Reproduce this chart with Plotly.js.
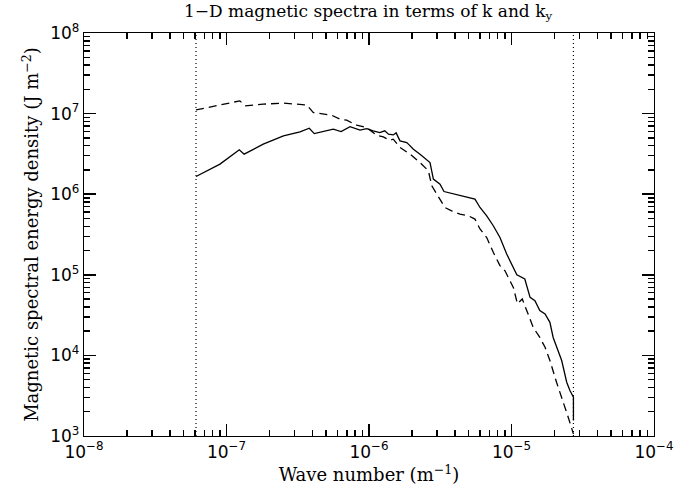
<!DOCTYPE html>
<html>
<head>
<meta charset="utf-8">
<script src="https://cdn.plot.ly/plotly-3.0.1.min.js"></script>
<style>html,body{margin:0;padding:0;background:#fff;}#chart{width:688px;height:490px;}</style>
</head>
<body>
<div id="chart"></div>
<script>
// Solid curve: spectrum in terms of k
const kSolid = [6.11e-8, 9.0e-8, 1.23e-7, 1.33e-7, 1.81e-7, 2.51e-7, 3.28e-7, 3.81e-7, 4.13e-7, 5.61e-7,
  6.37e-7, 7.36e-7, 8.65e-7, 9.64e-7, 1.07e-6, 1.19e-6, 1.29e-6, 1.37e-6, 1.48e-6, 1.55e-6,
  1.65e-6, 1.84e-6, 1.89e-6, 2.05e-6, 2.28e-6, 2.54e-6, 2.68e-6, 2.83e-6, 3.15e-6, 3.36e-6,
  5.54e-6, 6.01e-6, 6.70e-6, 7.45e-6, 8.30e-6, 9.25e-6, 1.00e-5, 1.09e-5, 1.24e-5, 1.35e-5,
  1.46e-5, 1.58e-5, 1.72e-5, 1.86e-5, 1.96e-5, 2.13e-5, 2.25e-5, 2.44e-5, 2.57e-5, 2.72e-5, 2.72e-5];
const eSolid = [1.66e6, 2.36e6, 3.55e6, 3.14e6, 4.18e6, 5.29e6, 5.93e6, 6.59e6, 5.65e6, 6.41e6,
  5.98e6, 6.90e6, 6.23e6, 6.52e6, 6.11e6, 5.82e6, 6.11e6, 5.56e6, 5.44e6, 5.77e6,
  4.59e6, 4.38e6, 4.18e6, 3.62e6, 3.14e6, 2.72e6, 2.47e6, 1.54e6, 1.33e6, 1.08e6,
  8.69e5, 6.84e5, 5.40e5, 4.06e5, 2.90e5, 1.81e5, 1.36e5, 1.00e5, 8.87e4, 5.25e4,
  4.78e4, 3.59e4, 3.26e4, 2.57e4, 1.67e4, 1.15e4, 8.63e3, 4.65e3, 3.66e3, 3.03e3, 1.56e3];

// Dashed curve: spectrum in terms of k_y
const kDashed = [6.11e-8, 1.12e-7, 1.24e-7, 1.35e-7, 1.81e-7, 2.51e-7, 3.66e-7, 4.07e-7, 5.47e-7, 6.25e-7,
  6.97e-7, 8.20e-7, 9.64e-7, 1.13e-6, 1.26e-6, 1.40e-6, 1.48e-6, 1.65e-6, 1.94e-6, 2.28e-6,
  2.61e-6, 2.76e-6, 3.06e-6, 3.41e-6, 3.80e-6, 4.35e-6, 4.98e-6, 5.54e-6, 6.01e-6, 6.70e-6,
  7.45e-6, 8.30e-6, 9.00e-6, 1.03e-5, 1.10e-5, 1.19e-5, 1.42e-5, 1.58e-5, 1.72e-5, 1.86e-5,
  2.07e-5, 2.25e-5, 2.50e-5, 2.72e-5];
const eDashed = [1.11e7, 1.37e7, 1.44e7, 1.25e7, 1.31e7, 1.35e7, 1.28e7, 1.03e7, 9.55e6, 8.53e6,
  8.28e6, 7.18e6, 6.71e6, 5.39e6, 5.14e6, 4.68e6, 4.82e6, 3.80e6, 3.14e6, 2.47e6,
  1.95e6, 1.27e6, 9.55e5, 6.84e5, 6.22e5, 5.66e5, 5.40e5, 4.91e5, 3.70e5, 2.90e5,
  1.90e5, 1.30e5, 1.12e5, 6.98e4, 4.38e4, 5.01e4, 2.23e4, 1.67e4, 1.26e4, 8.63e3,
  4.65e3, 3.03e3, 1.71e3, 1.06e3];

// Vertical dotted limits
const kLimits = [6.11e-8, 2.72e-5];

// Axis ranges and tick labels
const xTickVals = [1e-8, 1e-7, 1e-6, 1e-5, 1e-4];
const xTickText = ['10<sup>−8</sup>', '10<sup>−7</sup>', '10<sup>−6</sup>', '10<sup>−5</sup>', '10<sup>−4</sup>'];
const yTickVals = [1e3, 1e4, 1e5, 1e6, 1e7, 1e8];
const yTickText = ['10<sup>3</sup>', '10<sup>4</sup>', '10<sup>5</sup>', '10<sup>6</sup>', '10<sup>7</sup>', '10<sup>8</sup>'];
const xMinorVals = [2e-8, 3e-8, 4e-8, 5e-8, 6e-8, 7e-8, 8e-8, 9e-8,
  2e-7, 3e-7, 4e-7, 5e-7, 6e-7, 7e-7, 8e-7, 9e-7,
  2e-6, 3e-6, 4e-6, 5e-6, 6e-6, 7e-6, 8e-6, 9e-6,
  2e-5, 3e-5, 4e-5, 5e-5, 6e-5, 7e-5, 8e-5, 9e-5];
const yMinorVals = [2e3, 3e3, 4e3, 5e3, 6e3, 7e3, 8e3, 9e3,
  2e4, 3e4, 4e4, 5e4, 6e4, 7e4, 8e4, 9e4,
  2e5, 3e5, 4e5, 5e5, 6e5, 7e5, 8e5, 9e5,
  2e6, 3e6, 4e6, 5e6, 6e6, 7e6, 8e6, 9e6,
  2e7, 3e7, 4e7, 5e7, 6e7, 7e7, 8e7, 9e7];

const serif = 'DejaVu Serif, Liberation Serif, serif';
const sans = 'DejaVu Sans, Liberation Sans, sans-serif';

const traces = [
  {x: kSolid, y: eSolid, mode: 'lines', line: {color: '#000', width: 1.3}, hoverinfo: 'skip'},
  {x: kDashed, y: eDashed, mode: 'lines', line: {color: '#000', width: 1.3, dash: '8px,5px'}, hoverinfo: 'skip'},
  {x: [kLimits[0], kLimits[0]], y: [1e3, 1e8], mode: 'lines', line: {color: '#000', width: 1.2, dash: '1px,3px'}, hoverinfo: 'skip'},
  {x: [kLimits[1], kLimits[1]], y: [1e3, 1e8], mode: 'lines', line: {color: '#000', width: 1.2, dash: '1px,3px'}, hoverinfo: 'skip'}
];

function axis(vals, text, minorVals, range, title) {
  return {
    type: 'log', range: range,
    showline: true, linecolor: '#000', linewidth: 1.2, mirror: 'allticks',
    ticks: 'inside', ticklen: 12, tickwidth: 1.5, tickcolor: '#000',
    tickmode: 'array', tickvals: vals, ticktext: text,
    minor: {ticks: 'inside', ticklen: 6, tickwidth: 1.5, tickcolor: '#000', tickmode: 'array', tickvals: minorVals, showgrid: false},
    showgrid: false, zeroline: false,
    tickfont: {family: sans, size: 17, color: '#000'},
    title: title
  };
}

const layout = {
  width: 688, height: 490,
  margin: {l: 84, r: 34, t: 33, b: 54},
  paper_bgcolor: '#fff', plot_bgcolor: '#fff',
  showlegend: false,
  title: {text: '1−D magnetic spectra in terms of k and k<sub>y</sub>', font: {family: serif, size: 17, color: '#000'}, x: 0.535, xanchor: 'center', y: 0.99, yanchor: 'top'},
  xaxis: axis(xTickVals, xTickText, xMinorVals, [-8, -4], {text: 'Wave number (m<sup>−1</sup>)', font: {family: serif, size: 18, color: '#000'}, standoff: 2}),
  yaxis: axis(yTickVals, yTickText, yMinorVals, [3, 8], {text: 'Magnetic spectral energy density (J m<sup>−2</sup>)', font: {family: serif, size: 18, color: '#000'}, standoff: 6})
};

Plotly.newPlot('chart', traces, layout, {staticPlot: true, displayModeBar: false});
</script>
</body>
</html>
